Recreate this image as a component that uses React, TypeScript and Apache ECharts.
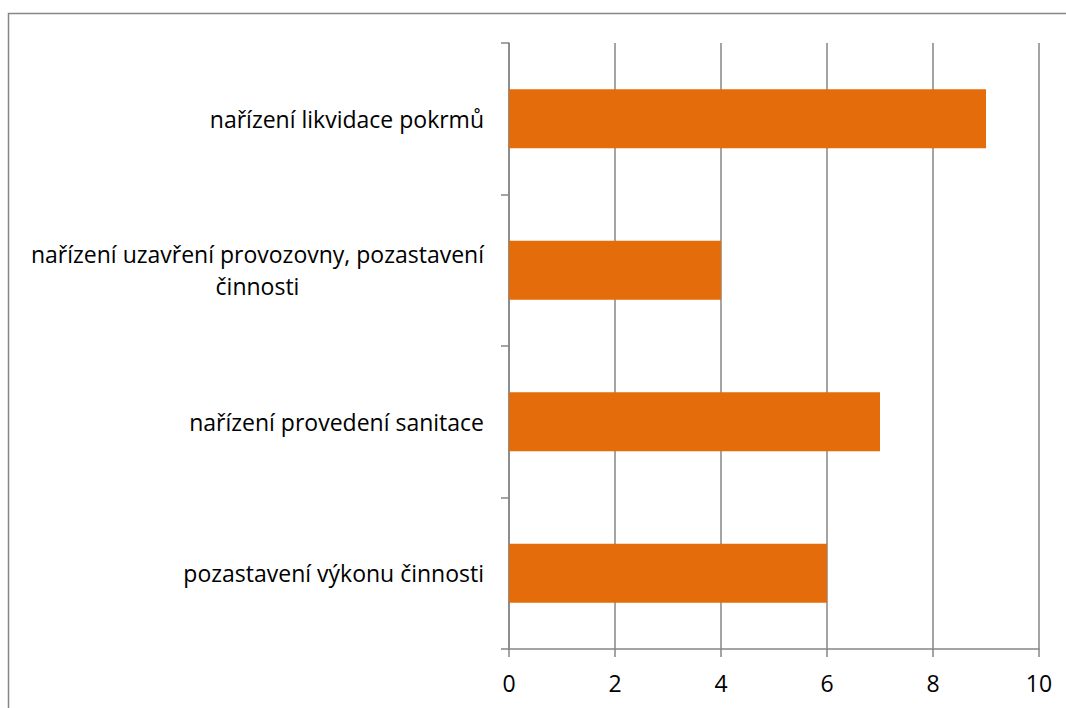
import React, { useEffect, useRef } from "react";
import * as echarts from "echarts";

const categories = [
  "nařízení likvidace pokrmů",
  "nařízení uzavření provozovny, pozastavení\nčinnosti",
  "nařízení provedení sanitace",
  "pozastavení výkonu činnosti",
];
const values = [9, 4, 7, 6];
const xTicks = { min: 0, max: 10, interval: 2 };

export default function App() {
  const ref = useRef<HTMLDivElement>(null);
  useEffect(() => {
    const chart = echarts.init(ref.current!, null, { renderer: "svg" });
    const grey = "#868686";
    const labelStyle = { color: "#000", fontSize: 23, lineHeight: 32, fontFamily: "Open Sans", align: "center" };
    chart.setOption({
      animation: false,
      backgroundColor: "#ffffff",
      textStyle: { fontFamily: "Open Sans" },
      graphic: [
        {
          type: "rect",
          shape: { x: 8.5, y: 13.5, width: 1200, height: 900 },
          style: { fill: "none", stroke: grey, lineWidth: 1.5 },
          silent: true,
        },
      ],
      grid: { left: 509, top: 43, right: 27, bottom: 59, containLabel: false },
      xAxis: {
        type: "value",
        min: xTicks.min,
        max: xTicks.max,
        interval: xTicks.interval,
        axisLine: { show: true, lineStyle: { color: grey, width: 1.5 } },
        axisTick: { show: true, length: 8, lineStyle: { color: grey, width: 1.5 } },
        splitLine: { show: true, lineStyle: { color: grey, width: 1.5 } },
        axisLabel: { color: "#000", fontSize: 23, margin: 22, fontFamily: "Open Sans" },
      },
      yAxis: {
        type: "category",
        data: categories,
        inverse: true,
        axisLine: { show: true, lineStyle: { color: grey, width: 1.5 } },
        axisTick: { show: true, length: 8, lineStyle: { color: grey, width: 1.5 } },
        axisLabel: {
          color: "#000",
          fontSize: 23,
          margin: 25,
          align: "right",
          lineHeight: 32,
          fontFamily: "Open Sans",
          formatter: (v: string) =>
            v
              .split("\n")
              .map((line) => `{c|${line}}`)
              .join("\n"),
          rich: { c: labelStyle },
        },
      },
      series: [
        {
          type: "bar",
          data: values,
          barWidth: "39%",
          itemStyle: { color: "#E46C0A" },
        },
      ],
    });
    return () => chart.dispose();
  }, []);
  return (
    <div
      ref={ref}
      style={{ position: "absolute", left: 0, top: 0, width: 1066, height: 708 }}
    />
  );
}
